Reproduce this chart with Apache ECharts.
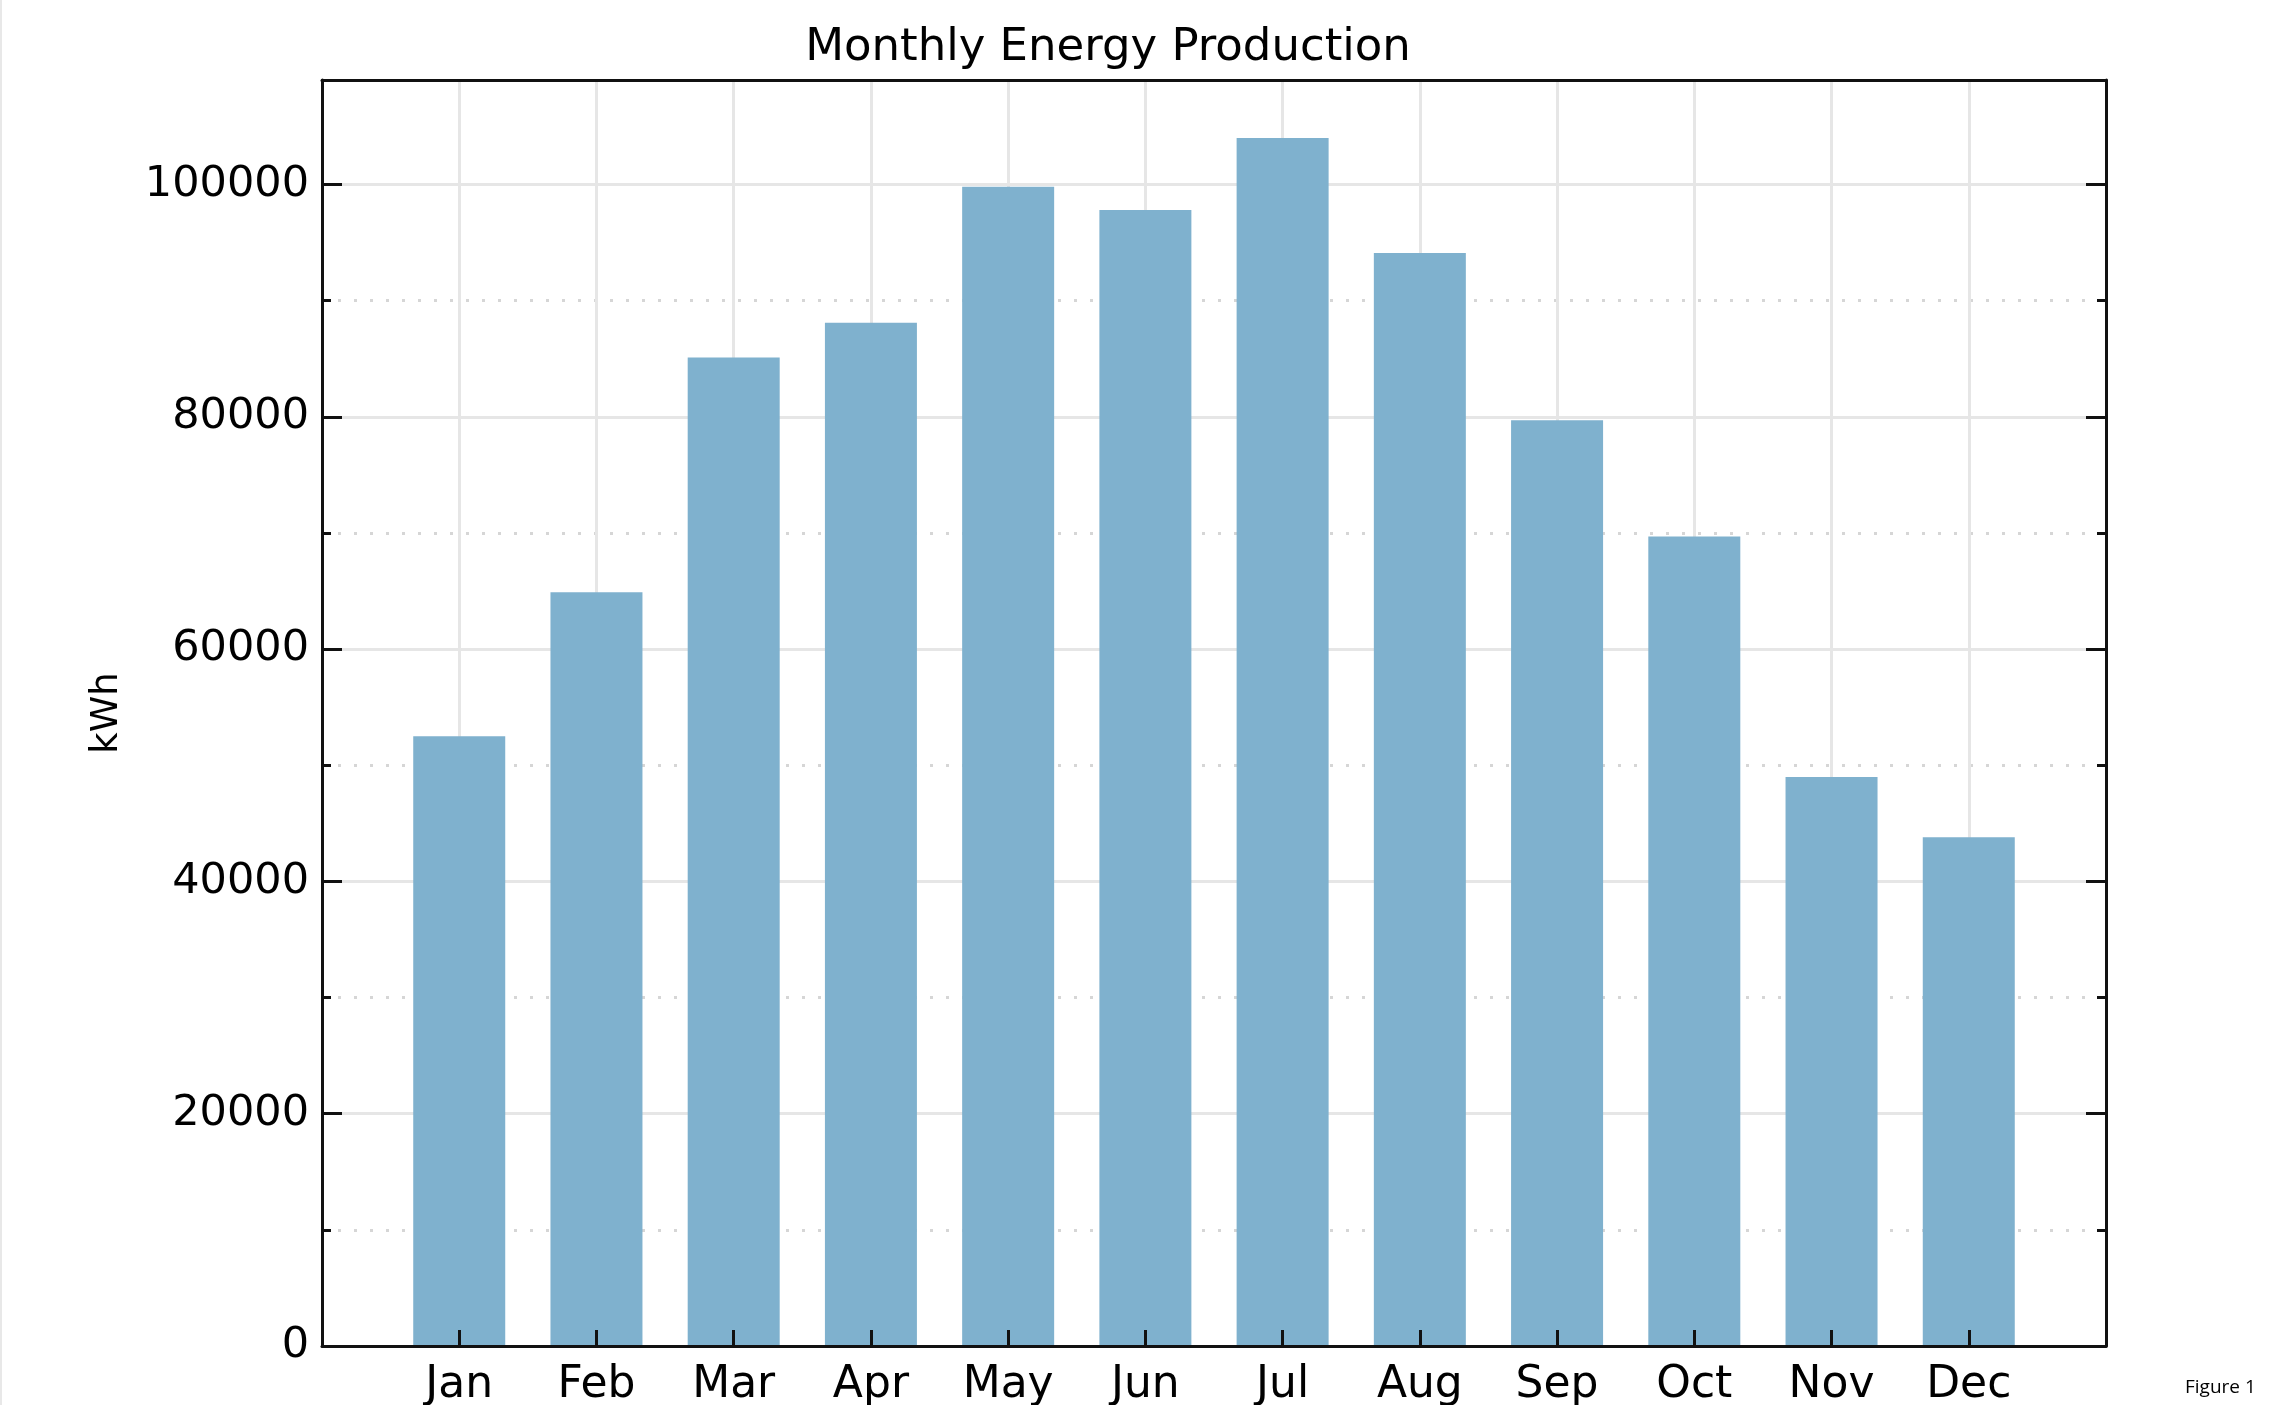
<!DOCTYPE html>
<html>
<head>
<meta charset="utf-8">
<script src="https://cdn.jsdelivr.net/npm/echarts@6/dist/echarts.min.js"></script>
<style>
  html, body { margin: 0; padding: 0; background: #fff; }
  #chart { width: 2296px; height: 1405px; }
</style>
</head>
<body>
<div id="chart"></div>
<script>
// data
var months = ["Jan", "Feb", "Mar", "Apr", "May", "Jun", "Jul", "Aug", "Sep", "Oct", "Nov", "Dec"];
var energy = [52500, 64900, 85100, 88100, 99800, 97800, 104000, 94100, 79700, 69700, 49000, 43800];
var yTicks = [0, 20000, 40000, 60000, 80000, 100000];

var FONT = "DejaVu Sans";
var gridColor = "#e6e6e6";
var frame = { show: true, onZero: false, lineStyle: { color: "#111", width: 3 } };

// months sit at 1..12 on a 0..13 value axis
var barData = [];
for (var i = 0; i < months.length; i++) {
    barData.push([i + 1, energy[i]]);
}

var chart = echarts.init(document.getElementById("chart"));

// y axis with ticks only (drawn above the bars)
function yTickAxis(pos) {
    return {
        type: "value",
        position: pos,
        min: yTicks[0],
        max: 109000,
        interval: yTicks[1] - yTicks[0],
        z: 10,
        axisLine: frame,
        axisTick: { show: true, inside: true, length: 20, lineStyle: { color: "#111", width: 3 } },
        minorTick: { show: true, splitNumber: 2, length: 9, lineStyle: { color: "#111", width: 3 } },
        axisLabel: { show: false },
        splitLine: { show: false }
    };
}

var yLeft = yTickAxis("left");
yLeft.name = "kWh";
yLeft.nameLocation = "middle";
yLeft.nameRotate = 90;
yLeft.nameGap = 196;
yLeft.nameTextStyle = { fontFamily: FONT, fontSize: 37, color: "#000" };
yLeft.axisLabel = {
    show: true, showMaxLabel: false, margin: 13,
    padding: [8, 0, 0, 0],
    fontFamily: FONT, fontSize: 43, color: "#000",
    formatter: function (v) { return String(v); }
};

// grid lines only (drawn below the bars)
var yGrid = {
    type: "value",
    position: "left",
    min: yTicks[0],
    max: 109000,
    interval: yTicks[1] - yTicks[0],
    z: 0,
    axisLine: { show: false, onZero: false },
    axisTick: { show: false },
    axisLabel: { show: false },
    splitLine: { show: true, lineStyle: { color: gridColor, width: 3 } },
    minorTick: { show: false, splitNumber: 2 },
    minorSplitLine: { show: true, lineStyle: { color: "#d6d6d6", width: 3, type: [3, 13] } }
};

chart.setOption({
    backgroundColor: "#fff",
    animation: false,
    title: {
        text: "Monthly Energy Production",
        left: 1103,
        top: 21,
        textAlign: "center",
        textStyle: { fontFamily: FONT, fontSize: 45, fontWeight: "normal", color: "#000" }
    },
    grid: { left: 322, right: 190, top: 80, bottom: 59, containLabel: false, outerBoundsMode: "none" },
    xAxis: [{
        type: "value",
        position: "bottom",
        min: 0,
        max: months.length + 1,
        interval: 1,
        z: 10,
        axisLine: frame,
        axisTick: { show: true, inside: true, length: 16, lineStyle: { color: "#111", width: 3 } },
        axisLabel: {
            showMinLabel: false,
            showMaxLabel: false,
            margin: 18,
            fontFamily: FONT, fontSize: 44, color: "#000",
            formatter: function (v) { return months[v - 1] || ""; }
        },
        splitLine: { show: false }
    }, {
        type: "value",
        position: "top",
        min: 0,
        max: months.length + 1,
        interval: 1,
        z: 0,
        axisLine: frame,
        axisTick: { show: false },
        axisLabel: { show: false },
        splitLine: { show: true, lineStyle: { color: gridColor, width: 3 } }
    }],
    yAxis: [yLeft, yTickAxis("right"), yGrid],
    series: [{
        type: "bar",
        xAxisIndex: 0,
        yAxisIndex: 0,
        data: barData,
        barWidth: 92,
        itemStyle: { color: "#7fb1ce" },
        z: 2
    }],
    graphic: [{
        type: "line",
        shape: { x1: 1, y1: 0, x2: 1, y2: 1405 },
        style: { stroke: "#e8e8e8", lineWidth: 2 }
    }, {
        type: "text",
        left: 2185,
        top: 1378,
        style: { text: "Figure 1", font: "19px 'Open Sans'", fill: "#000" }
    }]
});
</script>
</body>
</html>
